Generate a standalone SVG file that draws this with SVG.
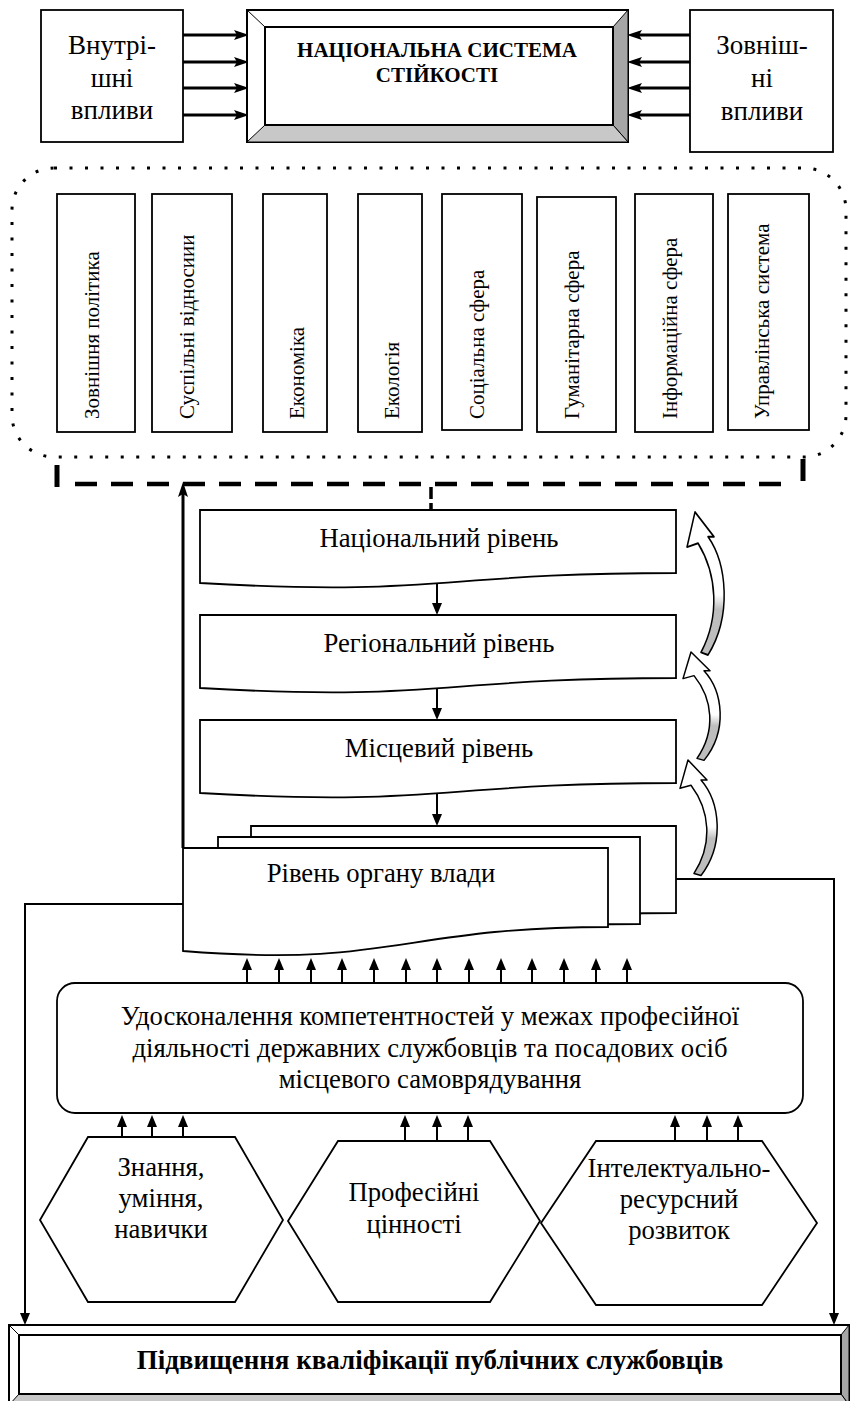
<svg xmlns="http://www.w3.org/2000/svg" width="850" height="1401" viewBox="0 0 850 1401">
<defs>
<style>
text{font-family:"Liberation Serif","Times New Roman",serif;fill:#000}
.box{fill:#fff;stroke:#000;stroke-width:1.8}
.t26{font-size:26.7px;text-anchor:middle}
.t27{font-size:27px;text-anchor:middle}
.tv{font-size:21px;text-anchor:start}
.tb{font-weight:bold;text-anchor:middle}
.ln{fill:none;stroke:#000;stroke-width:2}
.thick{fill:none;stroke:#000;stroke-width:3}
.dash{fill:none;stroke:#000;stroke-width:4.5;stroke-dasharray:22 14}
.curv{fill:url(#cg);stroke:#000;stroke-width:1.5;stroke-linejoin:round}
</style>
<marker id="ah" viewBox="0 0 12 10" refX="2" refY="5" markerWidth="12" markerHeight="10" markerUnits="userSpaceOnUse" orient="auto">
<path d="M0,0 L12,5 L0,10 Z" fill="#000"/>
</marker>
<marker id="ahT" viewBox="0 0 15 10" refX="3" refY="5" markerWidth="15" markerHeight="10" markerUnits="userSpaceOnUse" orient="auto">
<path d="M0,0 L15,5 L0,10 L3,5 Z" fill="#000"/>
</marker>
<linearGradient id="cg" x1="0" y1="0" x2="0" y2="1">
<stop offset="0" stop-color="#fff"/>
<stop offset="0.58" stop-color="#fff"/>
<stop offset="0.68" stop-color="#bdbdbd"/>
<stop offset="1" stop-color="#bdbdbd"/>
</linearGradient>
<path id="carr" d="M0,0 L19,19 L13,19 C32,40 37,80 13,110 L6,108 C25,80 22,48 3,24 L-8,27 Z"/>
</defs>
<rect width="850" height="1401" fill="#fff"/>

<g id="connectors">
<line class="thick" x1="183" y1="35" x2="237" y2="35" marker-end="url(#ahT)"/>
<line class="thick" x1="183" y1="62" x2="237" y2="62" marker-end="url(#ahT)"/>
<line class="thick" x1="183" y1="88" x2="237" y2="88" marker-end="url(#ahT)"/>
<line class="thick" x1="183" y1="115" x2="237" y2="115" marker-end="url(#ahT)"/>
<line class="thick" x1="690" y1="35" x2="639" y2="35" marker-end="url(#ahT)"/>
<line class="thick" x1="690" y1="62" x2="639" y2="62" marker-end="url(#ahT)"/>
<line class="thick" x1="690" y1="88" x2="639" y2="88" marker-end="url(#ahT)"/>
<line class="thick" x1="690" y1="115" x2="639" y2="115" marker-end="url(#ahT)"/>
<line x1="57" y1="465" x2="57" y2="487" stroke="#000" stroke-width="5"/>
<line class="dash" x1="75" y1="484" x2="792" y2="484"/>
<line x1="803" y1="459" x2="803" y2="481" stroke="#000" stroke-width="5"/>
<line x1="431" y1="487" x2="431" y2="510" stroke="#000" stroke-width="3.5" stroke-dasharray="12 4"/>
<line class="thick" x1="183" y1="848" x2="183" y2="494" marker-end="url(#ahT)"/>
<line class="ln" x1="437" y1="584" x2="437" y2="605" marker-end="url(#ah)"/>
<line class="ln" x1="437" y1="689" x2="437" y2="710" marker-end="url(#ah)"/>
<line class="ln" x1="437" y1="794" x2="437" y2="816" marker-end="url(#ah)"/>
<use href="#carr" class="curv" transform="translate(695,512) scale(1,1.3)"/>
<use href="#carr" class="curv" transform="translate(691,652) scale(1,0.985)"/>
<use href="#carr" class="curv" transform="translate(688,760) scale(1,1.05)"/>
<g class="ln" marker-end="url(#ah)">
<line x1="247" y1="983" x2="247" y2="968"/>
<line x1="279" y1="983" x2="279" y2="968"/>
<line x1="311" y1="983" x2="311" y2="968"/>
<line x1="342" y1="983" x2="342" y2="968"/>
<line x1="374" y1="983" x2="374" y2="968"/>
<line x1="406" y1="983" x2="406" y2="968"/>
<line x1="437" y1="983" x2="437" y2="968"/>
<line x1="469" y1="983" x2="469" y2="968"/>
<line x1="501" y1="983" x2="501" y2="968"/>
<line x1="532" y1="983" x2="532" y2="968"/>
<line x1="564" y1="983" x2="564" y2="968"/>
<line x1="596" y1="983" x2="596" y2="968"/>
<line x1="627" y1="983" x2="627" y2="968"/>
</g>
<g class="ln" marker-end="url(#ah)">
<line x1="122" y1="1137" x2="122" y2="1125"/>
<line x1="152" y1="1137" x2="152" y2="1125"/>
<line x1="183" y1="1137" x2="183" y2="1125"/>
<line x1="405" y1="1141" x2="405" y2="1125"/>
<line x1="437" y1="1141" x2="437" y2="1125"/>
<line x1="468" y1="1141" x2="468" y2="1125"/>
<line x1="675" y1="1141" x2="675" y2="1125"/>
<line x1="707" y1="1141" x2="707" y2="1125"/>
<line x1="738" y1="1141" x2="738" y2="1125"/>
</g>
<path class="ln" d="M183,904 H25 V1315" stroke-width="2.5" marker-end="url(#ah)"/>
<path class="ln" d="M676,879 H834 V1315" stroke-width="2.5" marker-end="url(#ah)"/>
</g>

<g id="internal">
<rect class="box" x="41" y="10" width="142" height="132"/>
<text class="t27" x="112" y="54">Внутрі-</text>
<text class="t27" x="112" y="87">шні</text>
<text class="t27" x="112" y="119">впливи</text>
</g>

<g id="national-system">
<rect x="247" y="10" width="381" height="132" fill="#fff" stroke="#000" stroke-width="2"/>
<polygon points="613,27 628,10 628,142 613,125" fill="#a6a6a6" stroke="#000" stroke-width="1"/>
<polygon points="265,125 613,125 628,142 247,142" fill="#c8c8c8" stroke="#000" stroke-width="1"/>
<line x1="247" y1="10" x2="265" y2="27" stroke="#000" stroke-width="1"/>
<rect x="265" y="27" width="348" height="98" fill="#fff" stroke="#000" stroke-width="2"/>
<text class="tb" x="437" y="57" font-size="21">НАЦІОНАЛЬНА СИСТЕМА</text>
<text class="tb" x="437" y="82" font-size="21">СТІЙКОСТІ</text>
</g>

<g id="external">
<rect class="box" x="690" y="10" width="143" height="142"/>
<text class="t27" x="762" y="54">Зовніш-</text>
<text class="t27" x="762" y="87">ні</text>
<text class="t27" x="762" y="120">впливи</text>
</g>

<g id="spheres">
<rect x="12" y="168" width="834" height="289" rx="42" fill="none" stroke="#000" stroke-width="3" stroke-dasharray="3 12.5"/>
<rect class="box" x="57" y="194" width="78" height="238"/>
<rect class="box" x="152" y="194" width="80" height="238"/>
<rect class="box" x="263" y="194" width="64" height="238"/>
<rect class="box" x="358" y="194" width="64" height="238"/>
<rect class="box" x="442" y="194" width="80" height="236"/>
<rect class="box" x="537" y="197" width="79" height="235"/>
<rect class="box" x="635" y="194" width="78" height="238"/>
<rect class="box" x="728" y="194" width="81" height="236"/>
<text class="tv" transform="translate(99,419) rotate(-90)">Зовнішня політика</text>
<text class="tv" transform="translate(194,419) rotate(-90)">Суспільні відносиии</text>
<text class="tv" transform="translate(304,419) rotate(-90)">Економіка</text>
<text class="tv" transform="translate(399,419) rotate(-90)">Екологія</text>
<text class="tv" transform="translate(484,419) rotate(-90)">Соціальна сфера</text>
<text class="tv" transform="translate(579,419) rotate(-90)">Гуманітарна сфера</text>
<text class="tv" transform="translate(677,419) rotate(-90)">Інформаційна сфера</text>
<text class="tv" transform="translate(769,419) rotate(-90)">Управлінська система</text>
</g>

<g id="national-level">
<path class="box" d="M200,510 H676 V573 C438,573 438,597 200,583 Z"/>
<text class="t26" x="439" y="547">Національний рівень</text>
</g>
<g id="regional-level">
<path class="box" d="M200,615 H676 V678 C438,678 438,702 200,688 Z"/>
<text class="t26" x="439" y="652">Регіональний рівень</text>
</g>
<g id="local-level">
<path class="box" d="M200,720 H676 V783 C438,783 438,807 200,793 Z"/>
<text class="t26" x="439" y="757">Місцевий рівень</text>
</g>

<g id="authority-level">
<path class="box" d="M251,826 H676 V913 C463,913 463,940 251,929 Z"/>
<path class="box" d="M218,837 H640 V924 C429,924 429,951 218,940 Z"/>
<path class="box" d="M183,848 H608 V927 C400,927 395,968 183,951 Z"/>
<text class="t26" x="381" y="882">Рівень органу влади</text>
</g>

<g id="competences">
<rect class="box" x="57" y="983" width="746" height="130" rx="18"/>
<text class="t26" x="430" y="1025">Удосконалення компетентностей у межах професійної</text>
<text class="t26" x="430" y="1057">діяльності державних службовців та посадових осіб</text>
<text class="t26" x="430" y="1088">місцевого самоврядування</text>
</g>

<g id="knowledge">
<path class="box" d="M88,1137 H235 L283,1220 L235,1302 H88 L40,1220 Z"/>
<text class="t26" x="161" y="1176">Знання,</text>
<text class="t26" x="161" y="1207">уміння,</text>
<text class="t26" x="161" y="1238">навички</text>
</g>

<g id="values">
<path class="box" d="M338,1141 H490 L540,1221 L490,1302 H338 L288,1221 Z"/>
<text class="t26" x="414" y="1201">Професійні</text>
<text class="t26" x="414" y="1233">цінності</text>
</g>

<g id="development">
<path class="box" d="M596,1141 H762 L817,1223 L762,1305 H596 L541,1223 Z" fill="none"/>
<text class="t26" x="679" y="1177">Інтелектуально-</text>
<text class="t26" x="679" y="1208">ресурсний</text>
<text class="t26" x="679" y="1239">розвиток</text>
</g>

<g id="qualification">
<rect x="9" y="1325" width="840" height="80" fill="#fff" stroke="#000" stroke-width="2"/>
<polygon points="841,1335 849,1325 849,1405 841,1394" fill="#a6a6a6" stroke="#000" stroke-width="1"/>
<polygon points="19,1394 841,1394 849,1405 9,1405" fill="#c8c8c8" stroke="#000" stroke-width="1"/>
<line x1="9" y1="1325" x2="19" y2="1335" stroke="#000" stroke-width="1"/>
<rect x="19" y="1335" width="822" height="59" fill="#fff" stroke="#000" stroke-width="2"/>
<text class="tb" x="430" y="1369" font-size="27">Підвищення кваліфікації публічних службовців</text>
</g>
</svg>
